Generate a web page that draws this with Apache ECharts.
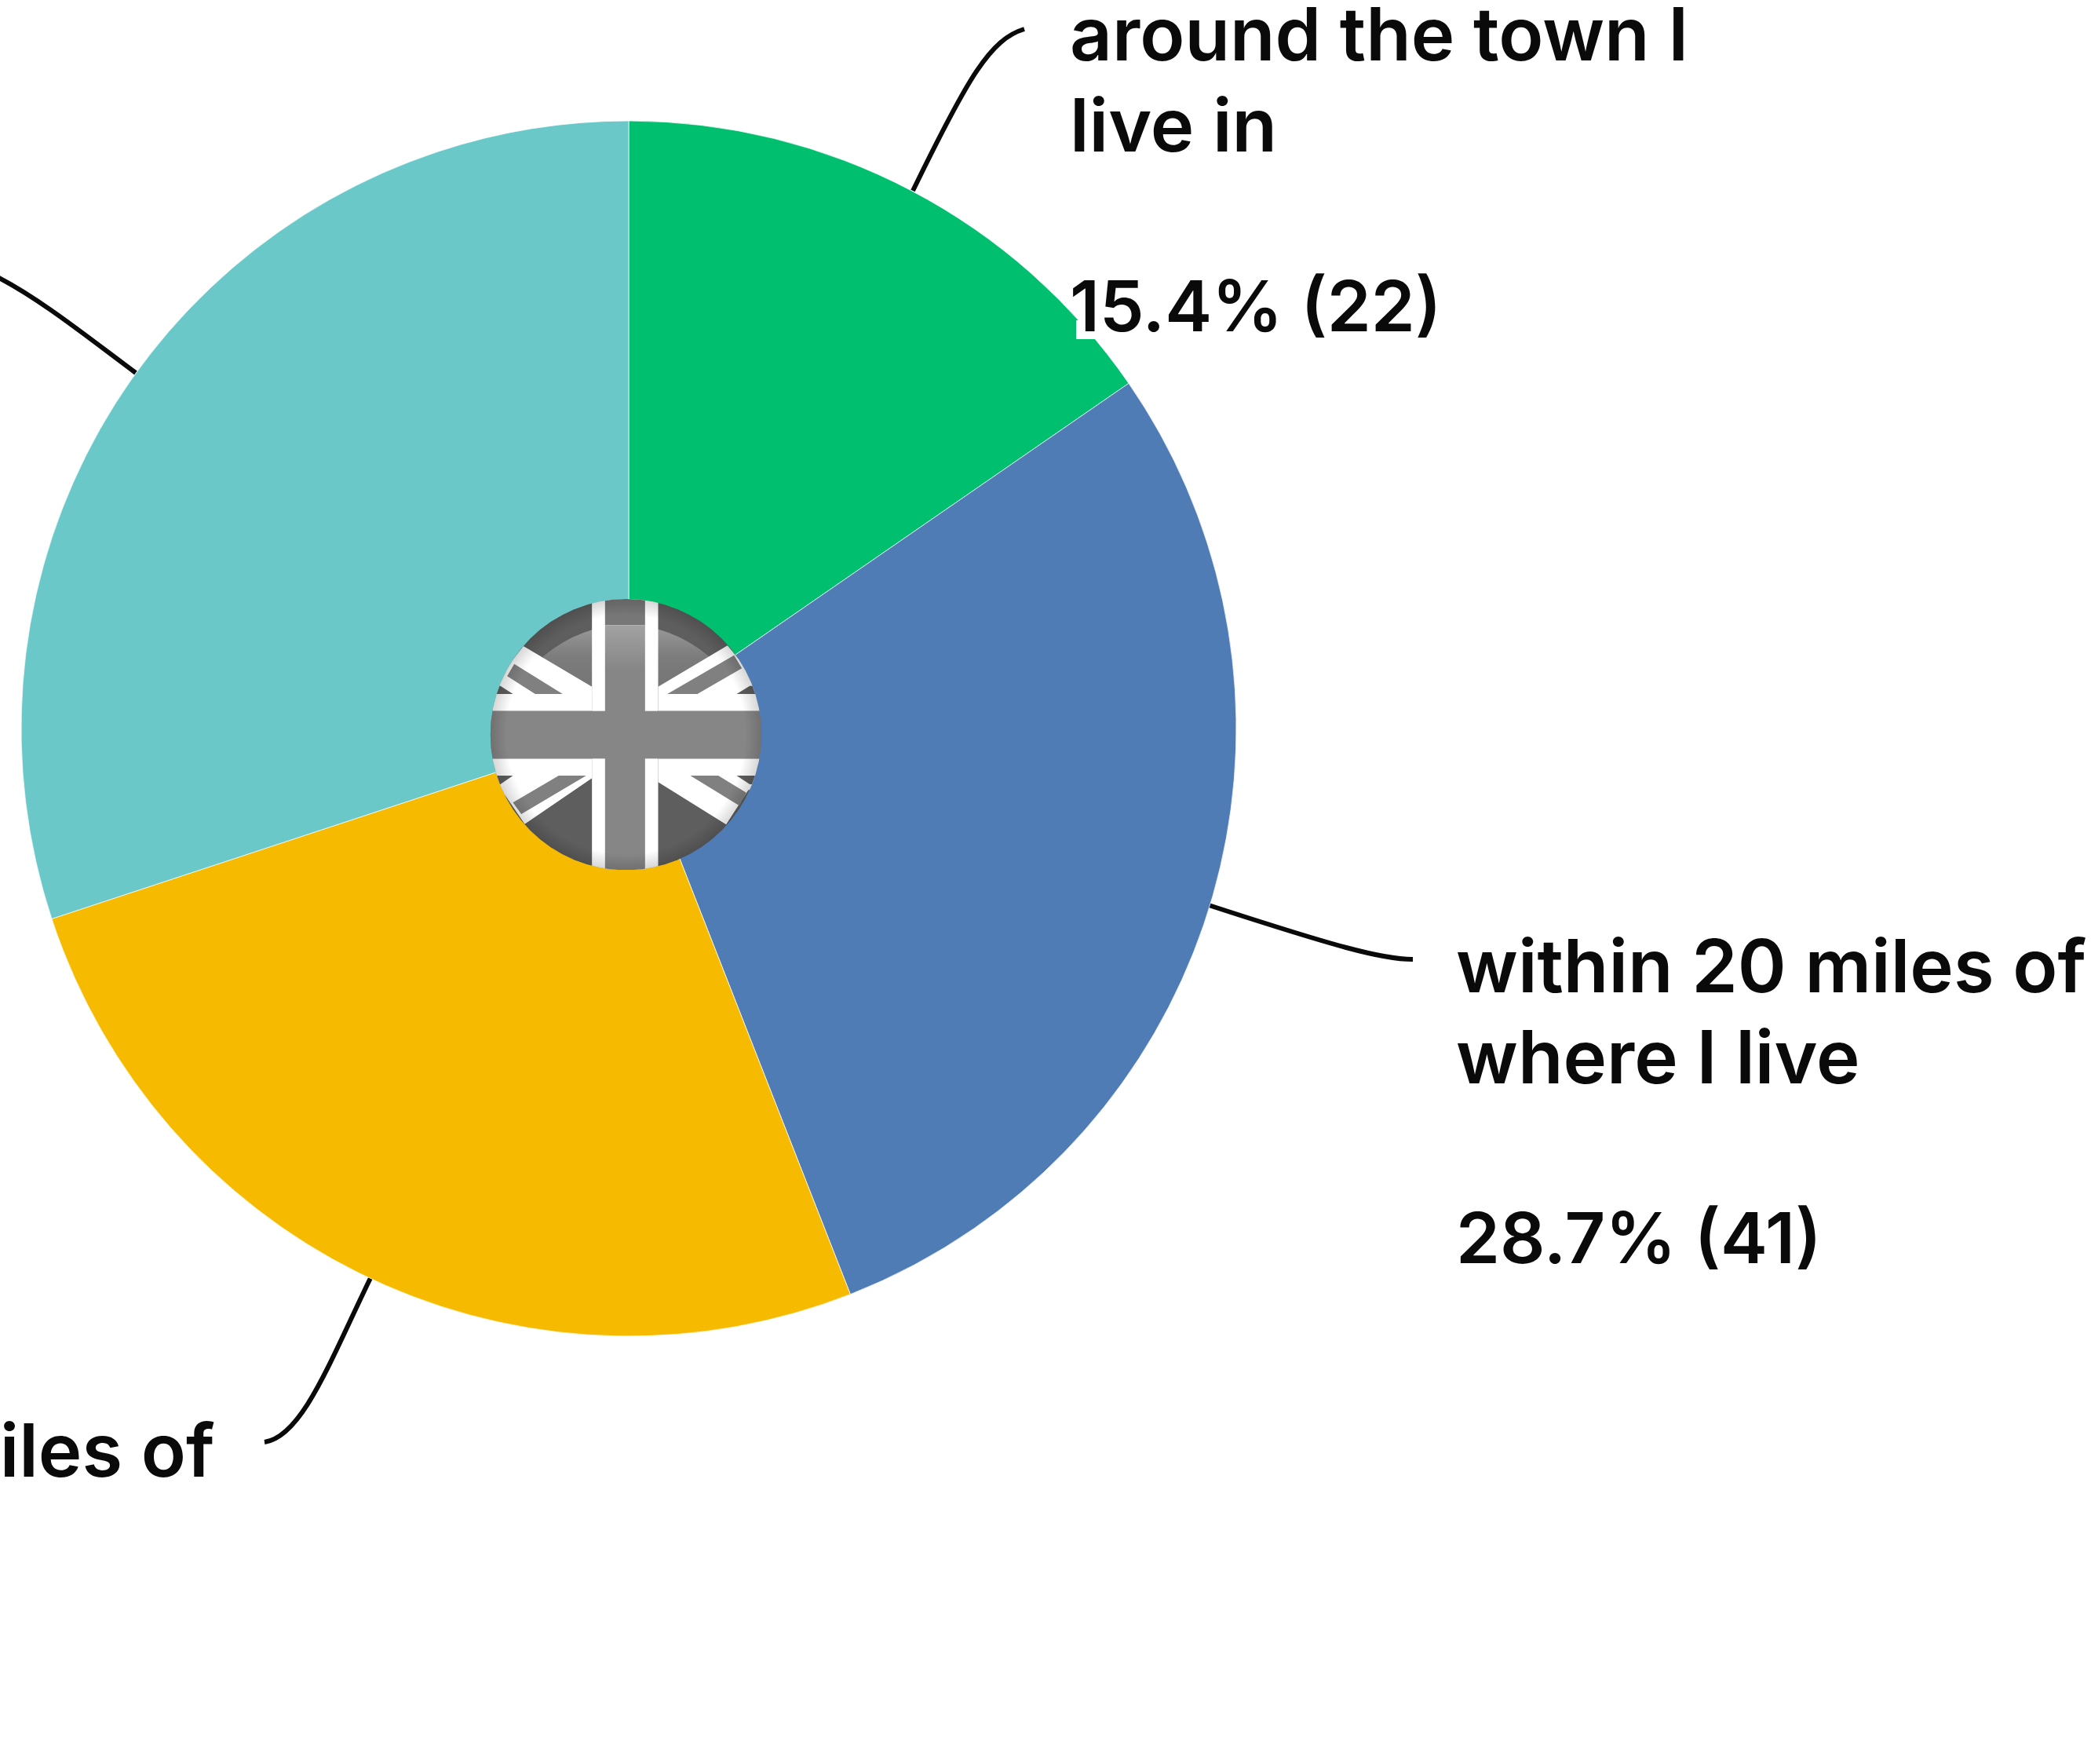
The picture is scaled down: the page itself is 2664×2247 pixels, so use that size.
<!DOCTYPE html>
<html>
<head>
<meta charset="utf-8">
<title>Distance pie</title>
<style>
  html, body { margin: 0; padding: 0; background: #fff; }
  #chart { width: 2664px; height: 2247px; }
</style>
<script src="https://cdn.jsdelivr.net/npm/echarts@6/dist/echarts.min.js"></script>
</head>
<body>
<div id="chart"></div>
<script>
// Answers, responses per answer, and slice colours (clockwise from 12 o'clock)
const answerLines = [
  ['around the town I', 'live in'],
  ['within 20 miles of', 'where I live'],
  ['within 50 miles of', 'where I live'],
  []
];
const responses = [22, 41, 37, 43];
const sliceColors = ['#00BF6F', '#507CB6', '#F6BB00', '#6BC8C9'];

// Where each label block starts, and the curve of its leader line
const labelOrigins = [[1363, -9], [1855, 1178], [-530, 1795], [-900, 300]];
const leaderCurves = [
  { x1: 1163, y1: 243, cpx1: 1234, cpy1: 97, cpx2: 1262, cpy2: 50, x2: 1305, y2: 37 },
  { x1: 1540, y1: 1153, cpx1: 1700, cpy1: 1205, cpx2: 1760, cpy2: 1222, x2: 1800, y2: 1222 },
  { x1: 472, y1: 1628, cpx1: 420, cpy1: 1735, cpx2: 385, cpy2: 1830, x2: 337, y2: 1837 },
  { x1: 173, y1: 475, cpx1: 110, cpy1: 428, cpx2: 50, cpy2: 380, x2: -5, y2: 352 }
];

const total = responses.reduce((a, b) => a + b, 0);
const pieData = responses.map((v, i) => ({
  value: v,
  name: answerLines[i].join(' ') || 'other',
  itemStyle: { color: sliceColors[i] }
}));

// Greyscale Union Flag badge that sits over the middle of the pie
const flagSvg = `<svg xmlns="http://www.w3.org/2000/svg" width="347" height="345" viewBox="192 130 1040 1035">
<defs>
<clipPath id="c"><circle cx="712" cy="648" r="518"/></clipPath>
<linearGradient id="dome" x1="0" y1="0" x2="0" y2="1"><stop offset="0" stop-color="#9a9a9a"/><stop offset="0.45" stop-color="#7c7c7c"/><stop offset="1" stop-color="#737373"/></linearGradient>
<linearGradient id="bar" x1="0" y1="0" x2="0" y2="1"><stop offset="0" stop-color="#a2a2a2"/><stop offset="0.5" stop-color="#868686"/><stop offset="1" stop-color="#868686"/></linearGradient>
<radialGradient id="rim" cx="0.5" cy="0.5" r="0.5"><stop offset="0.88" stop-color="#000" stop-opacity="0"/><stop offset="1" stop-color="#000" stop-opacity="0.16"/></radialGradient>
</defs>
<g clip-path="url(#c)">
<rect x="180" y="120" width="1070" height="1060" fill="#5e5e5e"/>
<path d="M395 350 Q540 230 712 230 Q885 230 1030 350 L1030 500 L395 500 Z" fill="url(#dome)"/>
<polygon points="320,310 582,465 582,558 180,558 180,400 250,400" fill="#fff"/>
<polygon points="285,378 470,493 365,493 258,425" fill="#808080"/>
<polygon points="232,462 280,493 200,493 200,462" fill="#5e5e5e"/>
<polygon points="1100,308 835,465 835,558 1240,558 1240,380 1160,380" fill="#fff"/>
<polygon points="870,493 985,493 1155,395 1125,345" fill="#808080"/>
<polygon points="1135,493 1225,493 1225,462 1185,462" fill="#5e5e5e"/>
<polygon points="180,740 582,740 582,815 325,990 250,880 180,880" fill="#fff"/>
<polygon points="455,805 560,805 312,952 280,908" fill="#808080"/>
<polygon points="200,805 280,805 232,838 200,838" fill="#5e5e5e"/>
<polygon points="1240,740 835,740 835,830 1095,992 1180,860 1240,860" fill="#fff"/>
<polygon points="958,805 1065,805 1172,870 1145,920" fill="#808080"/>
<polygon points="1135,805 1225,805 1225,838 1185,838" fill="#5e5e5e"/>
<rect x="582" y="120" width="253" height="1060" fill="#fff"/>
<rect x="632" y="120" width="153" height="110" fill="#777"/>
<rect x="632" y="230" width="153" height="340" fill="url(#bar)"/>
<rect x="632" y="560" width="153" height="620" fill="#868686"/>
<rect x="180" y="558" width="1070" height="182" fill="#868686"/>
<circle cx="712" cy="648" r="518" fill="url(#rim)"/>
</g>
</svg>`;

const chart = echarts.init(document.getElementById('chart'), null, { renderer: 'canvas' });

const labelFont = {
  fontFamily: 'Inter',
  fontWeight: 600,
  lineHeight: 115.5,
  color: '#0a0a0a',
  align: 'left'
};

chart.setOption({
  animation: false,
  backgroundColor: '#fff',
  series: [{
    type: 'pie',
    center: [801, 928],
    radius: [0, 774],
    startAngle: 90,
    clockwise: true,
    avoidLabelOverlap: false,
    data: pieData,
    itemStyle: { borderColor: 'rgba(255,255,255,0.7)', borderWidth: 1 },
    label: {
      show: true,
      position: 'outer',
      alignTo: 'none',
      formatter: (p) => {
        const pct = (100 * responses[p.dataIndex] / total).toFixed(1);
        const lines = answerLines[p.dataIndex].map((t) => `{t|${t}}`);
        if (lines.length) lines.push('{t|}');
        lines.push(`{p|${pct}% (${responses[p.dataIndex]})}`);
        return lines.join('\n');
      },
      rich: {
        t: { ...labelFont, fontSize: 94 },
        p: { ...labelFont, fontSize: 90 }
      }
    },
    labelLine: { show: false },
    labelLayout: (p) => ({
      x: labelOrigins[p.dataIndex][0],
      y: labelOrigins[p.dataIndex][1],
      align: 'left',
      verticalAlign: 'top',
      hideOverlap: false
    })
  }],
  graphic: [
    {
      type: 'image',
      z: 100,
      silent: true,
      style: {
        image: 'data:image/svg+xml;charset=utf-8,' + encodeURIComponent(flagSvg),
        x: 624,
        y: 763,
        width: 347,
        height: 345
      }
    },
    {
      // Small white patch the percentage label knocks out of the green slice
      type: 'rect',
      z: 2,
      z2: 2.5,
      silent: true,
      shape: { x: 1371, y: 408, width: 26, height: 24 },
      style: { fill: '#fff' }
    },
    ...leaderCurves.map((shape) => ({
      type: 'bezierCurve',
      z: 1,
      silent: true,
      shape,
      style: { fill: null, stroke: '#0a0a0a', lineWidth: 6 }
    }))
  ]
});
</script>
</body>
</html>
